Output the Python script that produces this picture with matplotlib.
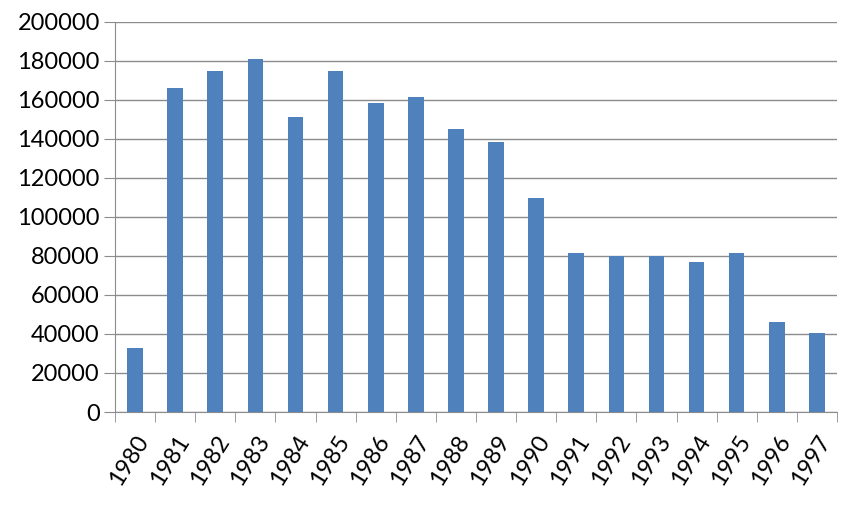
import matplotlib
matplotlib.use('Agg')
import matplotlib.pyplot as plt
import numpy as np

years = ['1980', '1981', '1982', '1983', '1984', '1985', '1986', '1987', '1988',
         '1989', '1990', '1991', '1992', '1993', '1994', '1995', '1996', '1997']
values = [33000, 166000, 174500, 181000, 151000, 174500, 158500, 161500, 145000,
          138500, 109500, 81500, 80000, 80000, 77000, 81500, 46000, 40500]

plt.rcParams['font.family'] = ['Lato', 'DejaVu Sans']

fig = plt.figure(figsize=(8.54, 5.12), dpi=100)
ax = fig.add_axes([0.1347, 0.1953, 0.8453, 0.7623])

x = np.arange(len(years))
ax.bar(x, values, width=0.39, color='#4F81BD', zorder=3)

ax.set_xlim(-0.5, len(years) - 0.5)
ax.set_ylim(0, 200000)
ax.set_yticks(np.arange(0, 200001, 20000))
ax.set_yticklabels([str(v) for v in range(0, 200001, 20000)])
ax.grid(axis='y', color='#8C8C8C', linewidth=1, zorder=0)

ax.set_xticks(x)
ax.set_xticklabels(years, rotation=58, ha='right', rotation_mode='anchor')
ax.set_xticks(np.arange(-0.5, len(years), 1), minor=True)
ax.tick_params(axis='x', which='major', length=0, pad=14, labelsize=17)
ax.tick_params(axis='x', which='minor', length=7, color='#8C8C8C')
ax.tick_params(axis='y', length=8, color='#8C8C8C', labelsize=17, pad=3)

for side in ['top', 'right']:
    ax.spines[side].set_visible(False)
for side in ['left', 'bottom']:
    ax.spines[side].set_color('#8C8C8C')

plt.savefig('out.png', dpi=100)
